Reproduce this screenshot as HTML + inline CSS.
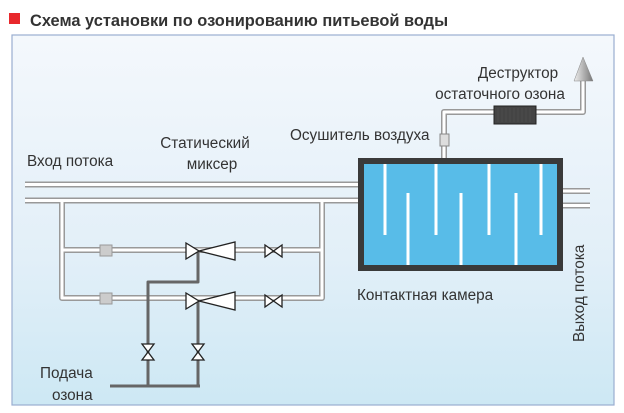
<!DOCTYPE html><html><head><meta charset="utf-8"><style>body{margin:0;background:#fff}svg{display:block}text{font-family:"Liberation Sans",sans-serif;fill:#333}</style></head><body>
<svg width="624" height="413" viewBox="0 0 624 413" xmlns="http://www.w3.org/2000/svg">
<defs><linearGradient id="bg" x1="0" y1="0" x2="0" y2="1"><stop offset="0" stop-color="#f4f8fc"/><stop offset="0.6" stop-color="#e2eff8"/><stop offset="1" stop-color="#cde8f4"/></linearGradient>
<linearGradient id="ar" x1="0" y1="0" x2="1" y2="0"><stop offset="0" stop-color="#eee"/><stop offset="1" stop-color="#777"/></linearGradient></defs>
<rect x="12" y="35" width="602" height="370" fill="url(#bg)" stroke="#9aaed0" stroke-width="1.2"/>
<rect x="9" y="13" width="11" height="11" fill="#e8282c"/>
<text x="30" y="26" font-size="16.4" font-weight="bold" fill="#2a2a2a">Схема установки по озонированию питьевой воды</text>
<g fill="none" stroke-linejoin="round">
<g stroke="#999" stroke-width="6">
<path d="M25 184.5H358M25 200.5H358M563 191H590M563 205.5H590"/>
<path d="M62 201V298H322V201M62 250H322"/>
<path d="M444 158V112H583V78"/>
</g>
<g stroke="#fff" stroke-width="3">
<path d="M25 184.5H358M25 200.5H358M563 191H590M563 205.5H590"/>
<path d="M62 201V298H322V201M62 250H322"/>
<path d="M444 158V112H583V78"/>
</g>
<path d="M110 386H200M148 386V282H198V251M198 386V301" stroke="#666" stroke-width="3"/>
</g>
<polygon points="574,81 593,81 583,57" fill="url(#ar)" stroke="#888" stroke-width="0.5"/>
<rect x="494" y="106" width="42" height="18" fill="#444" stroke="#222"/>
<g stroke="#555" stroke-width="0.5"><path d="M498 108v14M502 108v14M506 108v14M510 108v14M514 108v14M518 108v14M522 108v14M526 108v14M530 108v14"/></g>
<rect x="440" y="134" width="9" height="12" fill="#ddd" stroke="#888"/>
<rect x="100" y="245" width="12" height="11" fill="#ccc" stroke="#999"/>
<rect x="100" y="293" width="12" height="11" fill="#ccc" stroke="#999"/>
<rect x="361" y="161" width="199" height="107" fill="#58bce8" stroke="#3a3a3a" stroke-width="6"/>
<g stroke="#fff" stroke-width="3"><path d="M385 164V235M436 164V235M489 164V235M541 164V235M408 193V265M461 193V265M516 193V265"/></g>
<g fill="#fff" stroke="#222" stroke-width="1.3">
<polygon points="186,243 186,259 199,251"/><polygon points="199,251 235,242 235,260"/>
<polygon points="186,293 186,309 199,301"/><polygon points="199,301 235,292 235,310"/>
<polygon points="265,245 265,257 282,245 282,257"/>
<polygon points="265,295 265,307 282,295 282,307"/>
<polygon points="142,344 154,344 142,360 154,360"/>
<polygon points="192,344 204,344 192,360 204,360"/>
</g>
<g font-size="15.3">
<text x="27" y="166">Вход потока</text>
<text x="205" y="148" text-anchor="middle">Статический</text>
<text x="212" y="169" text-anchor="middle">миксер</text>
<text x="290" y="140">Осушитель воздуха</text>
<text x="518" y="78" text-anchor="middle">Деструктор</text>
<text x="500" y="99" text-anchor="middle">остаточного озона</text>
<text x="357" y="300">Контактная камера</text>
<text x="40" y="378">Подача</text>
<text x="52" y="400">озона</text>
<text transform="translate(584,342) rotate(-90)">Выход потока</text>
</g>
</svg></body></html>
